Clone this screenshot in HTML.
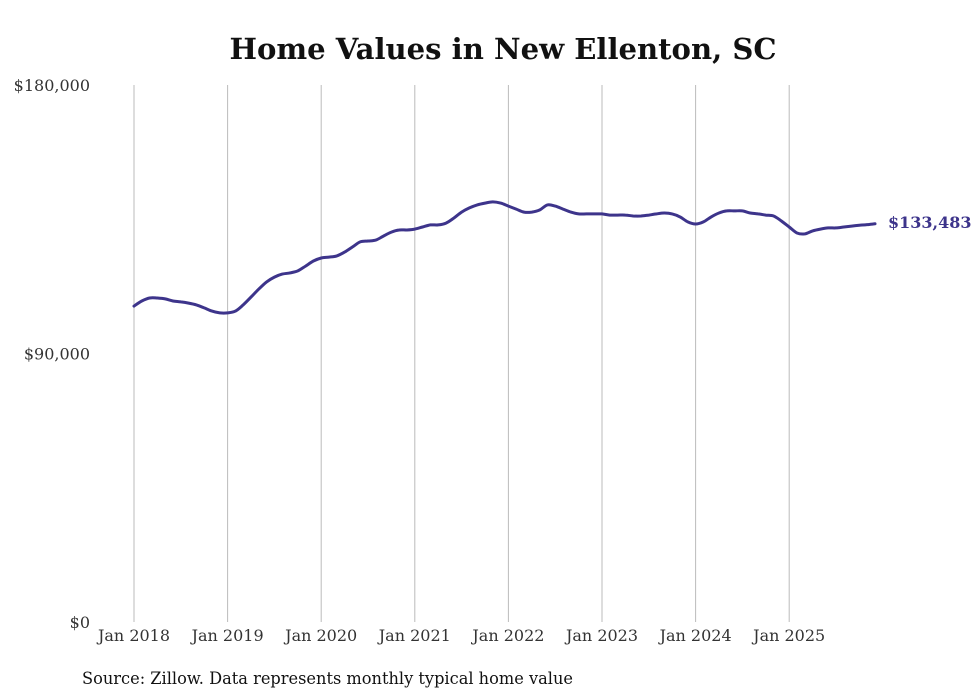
<!DOCTYPE html>
<html><head><meta charset="utf-8"><style>
html,body{margin:0;padding:0;background:#fff;width:980px;height:699px;overflow:hidden}
svg{display:block}
text{font-family:"DejaVu Serif","Liberation Serif",serif}
</style></head><body>
<svg id="chart" width="980" height="699" xmlns="http://www.w3.org/2000/svg">
<text x="503" y="59" text-anchor="middle" font-size="29" font-weight="bold" fill="#111" textLength="547" lengthAdjust="spacingAndGlyphs">Home Values in New Ellenton, SC</text>
<g id="grid"></g>
<g id="yaxis"></g>
<g id="xaxis"></g>
<g id="series"></g>
<text x="82" y="684" font-size="16.5" fill="#111" textLength="491" lengthAdjust="spacingAndGlyphs">Source: Zillow. Data represents monthly typical home value</text>
</svg>
<script>
const yTicks=[0,90000,180000];
const yTickLabels=["$0","$90,000","$180,000"];
const xYears=[2018,2019,2020,2021,2022,2023,2024,2025];
const xTickLabels=["Jan 2018","Jan 2019","Jan 2020","Jan 2021","Jan 2022","Jan 2023","Jan 2024","Jan 2025"];
const startYear=2018;
const values=[105900,107600,108600,108600,108300,107600,107300,106900,106300,105300,104200,103600,
103600,104200,106300,108900,111600,114000,115600,116600,117000,117700,119300,121000,
122000,122300,122700,124000,125700,127400,127700,128000,129400,130700,131400,131400,
131700,132400,133100,133100,133700,135400,137400,138800,139800,140400,140800,140400,
139400,138400,137400,137400,138100,139800,139400,138400,137400,136800,136800,136800,
136800,136400,136400,136400,136100,136100,136400,136800,137100,136800,135800,134100,
133400,134100,135800,137100,137800,137800,137800,137100,136800,136400,136100,134400,
132400,130400,130100,131100,131700,132100,132100,132400,132700,133000,133200,133483];
const lastLabel="$133,483";
const NS="http://www.w3.org/2000/svg";
const y=v=>622-v/180000*537;
const x=yr=>134+(yr-2018)*93.6;
function mk(tag,attrs,parent,txt){const e=document.createElementNS(NS,tag);for(const k in attrs)e.setAttribute(k,attrs[k]);if(txt!==undefined)e.textContent=txt;parent.appendChild(e);return e;}
const grid=document.getElementById('grid'),ya=document.getElementById('yaxis'),xa=document.getElementById('xaxis'),se=document.getElementById('series');
xYears.forEach((yr,i)=>{
  const l=mk('line',{x1:x(yr),x2:x(yr),y1:85,y2:622,stroke:'#bbb','stroke-width':1},grid);
  
  
  const t=mk('text',{x:x(yr),y:641,'text-anchor':'middle','font-size':16,fill:'#333'},xa,xTickLabels[i]);
  
  
});
yTicks.forEach((v,i)=>{
  const t=mk('text',{x:90,y:y(v)+6,'text-anchor':'end','font-size':16,fill:'#333'},ya,yTickLabels[i]);
  
  
});
const pts=values.map((v,i)=>[x(startYear+i/12),y(v)]);
let d='M'+pts[0][0].toFixed(1)+','+pts[0][1].toFixed(1);
for(let i=0;i<pts.length-1;i++){
  const p0=pts[Math.max(0,i-1)],p1=pts[i],p2=pts[i+1],p3=pts[Math.min(pts.length-1,i+2)];
  const c1=[p1[0]+(p2[0]-p0[0])/6,p1[1]+(p2[1]-p0[1])/6];
  const c2=[p2[0]-(p3[0]-p1[0])/6,p2[1]-(p3[1]-p1[1])/6];
  d+=' C'+c1[0].toFixed(1)+','+c1[1].toFixed(1)+' '+c2[0].toFixed(1)+','+c2[1].toFixed(1)+' '+p2[0].toFixed(1)+','+p2[1].toFixed(1);
}
const p=mk('path',{d:d,fill:'none',stroke:'#3d348b','stroke-width':3,'stroke-linejoin':'round','stroke-linecap':'round'},se);


const last=pts[pts.length-1];
const lt=mk('text',{x:last[0]+13,y:last[1]+4,'font-size':16,'font-weight':'bold',fill:'#3d348b'},se,lastLabel);


</script>
</body></html>
